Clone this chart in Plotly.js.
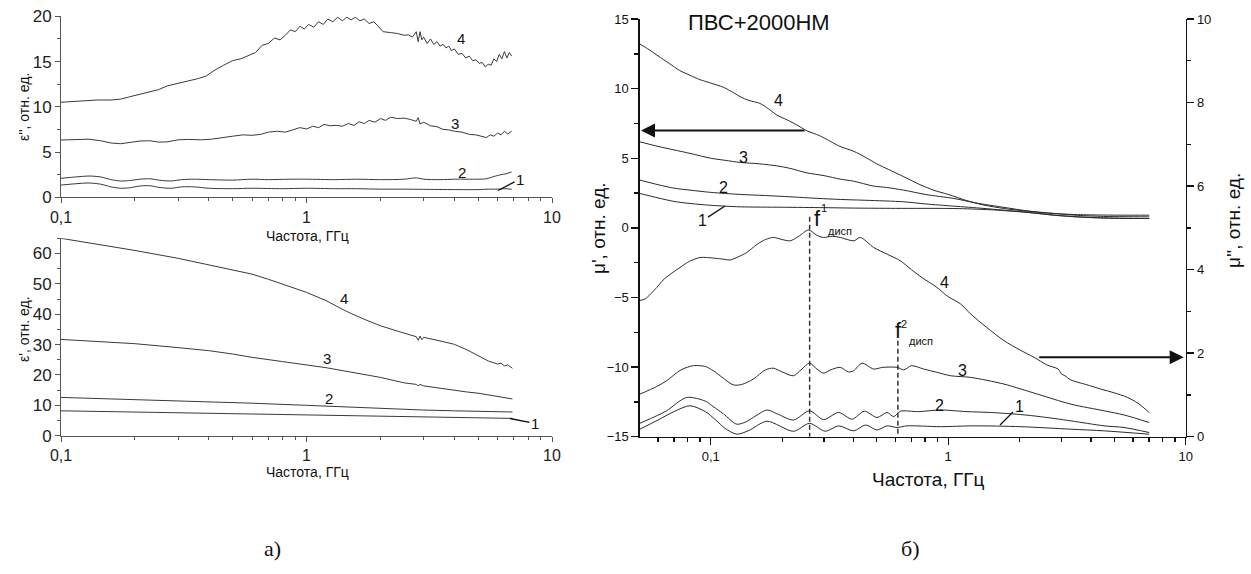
<!DOCTYPE html>
<html><head><meta charset="utf-8">
<script src="https://cdn.plot.ly/plotly-3.0.1.min.js"></script>
<style>html,body{margin:0;padding:0;background:#fff}#chart{width:1251px;height:574px}</style>
</head><body><div id="chart"></div>
<script>
// ---------- Panel а), top: ε'' ----------
const epsPP4_f = [0.1,0.12,0.14,0.16,0.175,0.19,0.21,0.23,0.25,0.27,0.3,0.33,0.36,0.39,0.42,0.46,0.5,0.54,0.58,0.62,0.66,0.7,0.74,0.78,0.82,0.86,0.9,0.94,0.98,1.02,1.07,1.12,1.17,1.22,1.28,1.34,1.4,1.46,1.52,1.58,1.65,1.72,1.8,1.88,1.96,2.05,2.2,2.35,2.5,2.6,2.7,2.8,2.85,2.9,2.95,3.0,3.1,3.2,3.3,3.4,3.5,3.6,3.7,3.8,3.9,4.0,4.15,4.3,4.45,4.6,4.75,4.9,5.05,5.2,5.35,5.5,5.65,5.8,5.95,6.1,6.25,6.4,6.55,6.7,6.85];
const epsPP4 = [10.5,10.65,10.75,10.75,10.85,11.1,11.4,11.6,11.9,12.3,12.6,12.8,13.1,13.4,14.0,14.6,15.1,15.3,15.7,16.0,16.8,17.0,17.6,17.4,17.9,18.5,18.3,18.9,18.6,19.1,18.8,19.4,19.1,19.7,19.4,19.9,19.5,19.9,19.6,19.9,19.5,19.7,19.2,19.4,18.9,18.3,18.2,18.1,17.9,17.95,17.7,18.3,17.2,18.3,17.4,17.7,17.0,17.5,16.9,17.2,16.7,16.9,16.5,16.7,16.2,16.4,15.8,15.9,15.4,15.6,15.1,15.2,14.8,14.9,14.4,14.7,14.6,15.3,15.0,15.8,15.3,16.1,15.4,16.0,15.6];
const epsPP3_f = [0.1,0.115,0.13,0.145,0.16,0.175,0.19,0.21,0.23,0.25,0.27,0.3,0.33,0.37,0.41,0.45,0.5,0.55,0.6,0.65,0.7,0.76,0.82,0.88,0.94,1.0,1.06,1.12,1.18,1.25,1.32,1.4,1.48,1.56,1.64,1.72,1.8,1.9,2.0,2.1,2.2,2.35,2.5,2.65,2.8,2.85,2.9,3.0,3.2,3.4,3.6,3.8,4.0,4.3,4.6,4.9,5.2,5.4,5.6,5.8,6.0,6.2,6.4,6.6,6.85];
const epsPP3 = [6.33,6.42,6.42,6.25,6.0,5.92,6.05,6.22,6.25,6.1,6.12,6.35,6.4,6.35,6.42,6.6,6.75,6.9,6.85,6.95,7.2,7.3,7.2,7.45,7.7,7.55,7.85,7.7,8.05,7.9,7.95,7.85,8.15,7.95,8.35,8.15,8.5,8.3,8.7,8.5,8.85,8.7,8.75,8.6,8.4,8.8,8.1,8.3,7.9,7.8,7.5,7.45,7.3,7.2,6.95,6.9,6.75,6.6,6.9,6.75,7.1,6.9,7.3,7.0,7.3];
const epsPP2_f = [0.1,0.115,0.13,0.145,0.16,0.175,0.19,0.21,0.23,0.25,0.28,0.31,0.35,0.4,0.5,0.6,0.7,0.85,1.0,1.3,1.6,2.0,2.5,2.8,3.0,3.5,4.0,4.5,5.0,5.4,5.8,6.2,6.5,6.85];
const epsPP2 = [2.1,2.25,2.35,2.25,1.95,1.8,1.85,2.0,2.05,1.9,1.8,1.95,2.0,1.95,1.9,2.0,1.95,2.0,2.0,1.95,2.0,1.95,2.0,2.15,2.0,1.95,2.0,2.0,2.0,2.05,2.3,2.5,2.6,2.8];
const epsPP1_f = [0.1,0.115,0.13,0.145,0.16,0.175,0.19,0.21,0.23,0.25,0.28,0.31,0.35,0.4,0.5,0.6,0.8,1.0,1.3,1.6,2.0,2.5,3.0,4.0,5.0,5.5,6.0,6.5,6.85];
const epsPP1 = [1.35,1.5,1.58,1.45,1.15,1.0,1.05,1.25,1.28,1.1,1.0,1.15,1.15,1.0,0.95,1.0,0.95,1.0,0.95,0.95,0.9,0.9,0.88,0.85,0.85,0.9,0.9,0.95,0.88];

// ---------- Panel а), bottom: ε' ----------
const epsP4_f = [0.1,0.15,0.2,0.3,0.4,0.5,0.6,0.7,0.85,1.0,1.2,1.45,1.7,2.0,2.4,2.8,2.85,2.9,2.95,3.0,3.5,4.0,4.5,5.0,5.5,6.0,6.2,6.4,6.6,6.9];
const epsP4 = [65,62.8,61,58.4,56.3,54.5,53.2,51.5,49.3,47.2,44.5,41.0,38.5,36.2,34.2,32.6,31.4,32.8,31.6,32.4,31.2,30.1,28.3,26.3,24.6,23.6,23.9,23.0,23.3,22.2];
const epsP3_f = [0.1,0.15,0.2,0.3,0.4,0.5,0.6,0.8,1.0,1.2,1.5,2.0,2.5,2.8,2.85,2.9,3.0,3.5,4.0,4.5,5.0,5.5,6.0,6.5,6.9];
const epsP3 = [31.7,31.0,30.3,29.0,28.0,26.9,25.8,24.4,23.3,22.4,21.0,19.2,17.4,16.9,16.4,16.9,16.4,15.6,15.0,14.4,14.0,13.4,12.9,12.4,12.1];
const epsP21_f = [0.1,0.2,0.4,0.6,1.0,1.5,2.0,3.0,4.0,5.0,6.0,6.9];
const epsP2 = [12.6,11.9,11.2,10.7,10.0,9.4,9.0,8.45,8.2,8.0,7.9,7.8];
const epsP1 = [8.2,7.8,7.5,7.3,6.9,6.6,6.4,6.2,6.0,5.9,5.8,5.7];

// ---------- Panel б): μ' (left axis) ----------
const muP4_f = [0.0503,0.055,0.06,0.067,0.074,0.082,0.09,0.1,0.113,0.125,0.133,0.145,0.161,0.175,0.19,0.21,0.23,0.254,0.27,0.289,0.32,0.35,0.4,0.45,0.5,0.56,0.65,0.75,0.87,1.0,1.2,1.4,1.72,2.0,2.4,2.8,3.5,4.5,5.33,7.02];
const muP4 = [13.2,12.8,12.35,11.8,11.3,10.95,10.65,10.4,10.1,9.7,9.42,9.15,8.94,8.55,8.1,7.75,7.4,6.97,6.8,6.6,6.2,5.85,5.5,5.05,4.6,4.2,3.67,3.15,2.7,2.4,1.95,1.65,1.39,1.25,1.12,1.03,0.95,0.92,0.91,0.91];
const muP3_f = [0.0503,0.06,0.07,0.0818,0.1,0.115,0.133,0.16,0.19,0.216,0.254,0.3,0.351,0.4,0.485,0.55,0.65,0.8,1.056,1.3,1.717,2.2,2.79,3.5,4.5,5.5,7.02];
const muP3 = [6.18,5.85,5.6,5.35,5.0,4.85,4.7,4.6,4.45,4.27,3.95,3.75,3.5,3.35,3.0,2.9,2.71,2.4,2.11,1.8,1.47,1.2,1.03,0.9,0.82,0.8,0.79];
const muP2_f = [0.0503,0.06,0.07,0.0818,0.1,0.133,0.17,0.216,0.28,0.351,0.45,0.65,0.8,1.056,1.4,1.717,2.2,2.79,3.5,4.5,5.5,7.02];
const muP2 = [3.43,3.1,2.85,2.71,2.55,2.4,2.32,2.23,2.12,2.04,1.98,1.87,1.72,1.56,1.4,1.27,1.1,0.91,0.8,0.72,0.68,0.67];
const muP1_f = [0.0503,0.06,0.07,0.0818,0.1,0.133,0.2,0.3,0.4,0.6,1.056,1.5,2.018,2.5,2.79,3.5,4.5,7.02];
const muP1 = [2.47,2.15,1.9,1.75,1.62,1.51,1.48,1.45,1.42,1.4,1.39,1.3,1.15,1.0,0.91,0.78,0.7,0.67];

// ---------- Panel б): μ'' (right axis) ----------
const muPP4_f = [0.0503,0.053,0.0592,0.063,0.068,0.0742,0.0815,0.0901,0.0962,0.105,0.113,0.1206,0.13,0.1419,0.1563,0.17,0.1837,0.2,0.2161,0.235,0.2581,0.28,0.2986,0.325,0.3513,0.4,0.4266,0.4853,0.5529,0.6292,0.7,0.78,0.8988,1.0,1.127,1.242,1.45,1.717,2.0,2.3,2.6,2.9,3.0,3.1,3.281,3.8,4.392,5.0,5.69,6.3,7.02];
const muPP4 = [3.26,3.3,3.57,3.75,3.9,4.05,4.2,4.29,4.29,4.27,4.25,4.23,4.3,4.41,4.6,4.72,4.77,4.72,4.69,4.8,4.95,4.82,4.77,4.8,4.77,4.69,4.77,4.53,4.37,4.21,4.0,3.8,3.57,3.35,3.18,2.94,2.62,2.3,2.08,1.9,1.72,1.62,1.5,1.46,1.36,1.25,1.14,1.05,0.94,0.8,0.58];
const muPP3_f = [0.0503,0.0592,0.0652,0.075,0.0845,0.095,0.1025,0.113,0.1246,0.135,0.1512,0.17,0.1837,0.2,0.2232,0.24,0.2606,0.28,0.2986,0.32,0.3513,0.38,0.4,0.4336,0.4853,0.53,0.6093,0.65,0.7,0.7888,0.8988,1.023,1.242,1.717,2.375,3.281,4.534,5.5,7.02];
const muPP3 = [1.02,1.2,1.34,1.6,1.7,1.68,1.58,1.4,1.24,1.25,1.38,1.6,1.64,1.55,1.46,1.6,1.76,1.62,1.52,1.6,1.66,1.55,1.58,1.76,1.62,1.66,1.66,1.6,1.7,1.62,1.54,1.46,1.42,1.26,1.02,0.78,0.62,0.52,0.34];
const muPP2_f = [0.0503,0.0592,0.0652,0.0792,0.095,0.1025,0.113,0.1287,0.14,0.155,0.1723,0.19,0.2232,0.2606,0.2986,0.3455,0.3936,0.4436,0.5017,0.5529,0.5894,0.6292,0.75,0.9279,1.2,1.508,2.018,2.44,3.281,4.534,5.5,7.02];
const muPP2 = [0.32,0.5,0.62,0.94,0.85,0.72,0.55,0.3,0.35,0.5,0.64,0.55,0.4,0.62,0.41,0.58,0.42,0.61,0.46,0.58,0.48,0.61,0.6,0.64,0.6,0.58,0.53,0.48,0.38,0.26,0.22,0.1];
const muPP1_f = [0.0503,0.06,0.07,0.0818,0.095,0.105,0.115,0.1287,0.145,0.1723,0.2232,0.2606,0.3036,0.3455,0.40,0.4486,0.5017,0.5529,0.6093,0.67,0.9279,1.28,2.018,3.281,4.534,7.02];
const muPP1 = [0.18,0.4,0.6,0.74,0.6,0.4,0.2,0.06,0.15,0.37,0.13,0.32,0.13,0.26,0.14,0.28,0.16,0.26,0.22,0.26,0.24,0.26,0.24,0.18,0.14,0.06];

// dispersion frequencies and the top of their dashed markers (left-axis units)
const fDisp = [0.261, 0.614];
const fDispTop = [0.8, -8.1];

// tick labels
const logTickVals = [0.1, 1, 10];
const logTickText = ['0,1', '1', '10'];
const minorLogVals = [0.06,0.07,0.08,0.09,0.2,0.3,0.4,0.5,0.6,0.7,0.8,0.9,2,3,4,5,6,7,8,9];

// ---------------------------------------------------------
const W = 1251, H = 574;
const SANS = 'Liberation Sans, Arial, sans-serif';
const lineA = {color: '#3a3a3a', width: 1};
const lineB = {color: '#2a2a2a', width: 1};

function tr(x, y, xa, ya, line, spline) {
  return {x: x, y: y, xaxis: xa, yaxis: ya, type: 'scatter', mode: 'lines',
          line: Object.assign({}, line, spline ? {shape: 'spline', smoothing: 0.8} : {}),
          hoverinfo: 'skip', showlegend: false};
}

const data = [
  tr(epsPP4_f, epsPP4, 'x', 'y', lineA, false),
  tr(epsPP3_f, epsPP3, 'x', 'y', lineA, false),
  tr(epsPP2_f, epsPP2, 'x', 'y', lineA, true),
  tr(epsPP1_f, epsPP1, 'x', 'y', lineA, true),
  tr(epsP4_f, epsP4, 'x2', 'y2', lineA, false),
  tr(epsP3_f, epsP3, 'x2', 'y2', lineA, false),
  tr(epsP21_f, epsP2, 'x2', 'y2', lineA, false),
  tr(epsP21_f, epsP1, 'x2', 'y2', lineA, false),
  tr(muP4_f, muP4, 'x3', 'y3', lineB, true),
  tr(muP3_f, muP3, 'x3', 'y3', lineB, true),
  tr(muP2_f, muP2, 'x3', 'y3', lineB, true),
  tr(muP1_f, muP1, 'x3', 'y3', lineB, true),
  tr(muPP4_f, muPP4, 'x3', 'y4', lineB, true),
  tr(muPP3_f, muPP3, 'x3', 'y4', lineB, true),
  tr(muPP2_f, muPP2, 'x3', 'y4', lineB, true),
  tr(muPP1_f, muPP1, 'x3', 'y4', lineB, true)
];
// dashed dispersion markers
fDisp.forEach(function (f, i) {
  data.push({x: [f, f], y: [fDispTop[i], -15], xaxis: 'x3', yaxis: 'y3', type: 'scatter', mode: 'lines',
             line: {color: '#333', width: 1.5, dash: '5px,3px'}, hoverinfo: 'skip', showlegend: false});
});

function dom(a, b, size) { return [a / size, b / size]; }
function ydom(top, bottom) { return [1 - bottom / H, 1 - top / H]; }

const axA = {showline: true, linecolor: '#555', linewidth: 1, ticks: 'outside', ticklen: 5,
             tickcolor: '#555', showgrid: false, zeroline: false,
             tickfont: {family: SANS, size: 16, color: '#222'}};
const axB = {showline: true, linecolor: '#111', linewidth: 1.6, ticks: 'outside', ticklen: 7,
             tickwidth: 1.4, tickcolor: '#111', showgrid: false, zeroline: false,
             tickfont: {family: SANS, size: 13, color: '#111'}};

function logX(base, range, domain, anchor, minorLen) {
  return Object.assign({}, base, {type: 'log', range: range, domain: domain, anchor: anchor,
    tickmode: 'array', tickvals: logTickVals, ticktext: logTickText,
    minor: {tickmode: 'array', tickvals: minorLogVals, ticks: 'outside', ticklen: minorLen, tickcolor: base.tickcolor, showgrid: false}});
}

const layout = {
  width: W, height: H, margin: {l: 0, r: 0, t: 0, b: 0},
  paper_bgcolor: '#fff', plot_bgcolor: 'rgba(0,0,0,0)', showlegend: false,
  xaxis: logX(axA, [-1, 1], dom(61, 552, W), 'y', 3),
  yaxis: Object.assign({}, axA, {range: [0, 20], domain: ydom(16.3, 197.3), anchor: 'x', tick0: 0, dtick: 5,
    tickfont: {family: SANS, size: 17, color: '#222'},
    minor: {dtick: 2.5, ticks: 'outside', ticklen: 3, tickcolor: '#555', showgrid: false}}),
  xaxis2: logX(axA, [-1, 1], dom(61, 552, W), 'y2', 3),
  yaxis2: Object.assign({}, axA, {range: [0, 65], domain: ydom(238.3, 435.7), anchor: 'x2', tick0: 0, dtick: 10,
    tickfont: {family: SANS, size: 17, color: '#222'},
    minor: {dtick: 5, ticks: 'outside', ticklen: 3, tickcolor: '#555', showgrid: false}}),
  xaxis3: logX(axB, [-1.2977, 1], dom(640, 1185.7, W), 'y3', 4),
  yaxis3: Object.assign({}, axB, {range: [-15, 15], domain: ydom(19, 436.7), anchor: 'x3', tick0: 0, dtick: 5,
    minor: {dtick: 2.5, ticks: 'outside', ticklen: 4, tickcolor: '#111', showgrid: false}}),
  yaxis4: Object.assign({}, axB, {range: [0, 10], overlaying: 'y3', side: 'right', anchor: 'x3', tick0: 0, dtick: 2,
    minor: {dtick: 1, ticks: 'outside', ticklen: 4, tickcolor: '#111', showgrid: false}}),
  annotations: [], shapes: []
};

const A = layout.annotations;
function txt(t, x, y, size, extra) {
  A.push(Object.assign({text: t, xref: 'paper', yref: 'paper', x: x / W, y: 1 - y / H,
    xanchor: 'center', yanchor: 'middle', showarrow: false,
    font: {family: SANS, size: size, color: '#111'}}, extra || {}));
}
function leader(t, hx, hy, tx, ty, size) {
  A.push({text: t, xref: 'paper', yref: 'paper', x: hx / W, y: 1 - hy / H,
    ax: tx - hx, ay: ty - hy, showarrow: true, arrowhead: 0, arrowwidth: 1.3, arrowcolor: '#111',
    standoff: 0, font: {family: SANS, size: size, color: '#111'}});
}

// panel а) axis titles
txt("ε'', отн. ед.", 24, 107, 14, {textangle: -90});
txt('Частота, ГГц', 307, 236, 14);
txt("ε', отн. ед.", 24, 329, 14, {textangle: -90});
txt('Частота, ГГц', 307, 472, 14);
// panel а) curve numbers
txt('4', 461, 38, 15); txt('3', 455, 123, 15); txt('2', 462, 172, 15);
leader('1', 498, 190.5, 520, 179, 15);
txt('4', 344, 298, 15); txt('3', 327, 358, 15); txt('2', 329, 398, 15);
leader('1', 510, 418.5, 535, 423.5, 15);

// panel б)
txt('ПВС+2000НМ', 759, 22, 22);
txt("μ', отн. ед.", 598, 228, 19, {textangle: -90});
txt("μ'', отн. ед.", 1233, 221, 19, {textangle: -90});
txt('Частота, ГГц', 928, 479, 19);
txt('4', 778, 100, 16); txt('3', 743, 158, 16); txt('2', 723, 187, 16);
leader('1', 725, 206, 702, 221, 16);
txt('4', 944, 282, 16); txt('3', 962, 370, 16); txt('2', 940, 405, 16);
leader('1', 1000, 425, 1019, 406, 16);
// dispersion labels
txt('f', 817, 219, 22); txt('1', 824, 208, 11); txt('дисп', 840, 231, 11);
txt('f', 898, 330, 22); txt('2', 904, 324, 11); txt('дисп', 921, 341, 11);

// arrows pointing to the relevant axes
A.push({text: '', xref: 'x3', yref: 'y3', x: -1.2977, y: 7, ax: 166, ay: 0, axref: 'pixel', ayref: 'pixel',
  showarrow: true, arrowhead: 2, arrowsize: 1.4, arrowwidth: 2, arrowcolor: '#111', standoff: 1});
A.push({text: '', xref: 'x3', yref: 'y4', x: 1, y: 1.9, ax: -148, ay: 0, axref: 'pixel', ayref: 'pixel',
  showarrow: true, arrowhead: 2, arrowsize: 1.4, arrowwidth: 2, arrowcolor: '#111', standoff: 2});

// sub-figure captions
txt('а)', 272, 548, 22, {font: {family: 'Liberation Serif, Times New Roman, serif', size: 22, color: '#111'}});
txt('б)', 910, 548, 22, {font: {family: 'Liberation Serif, Times New Roman, serif', size: 22, color: '#111'}});

Plotly.newPlot('chart', data, layout, {staticPlot: true, displayModeBar: false});
</script>
</body></html>
